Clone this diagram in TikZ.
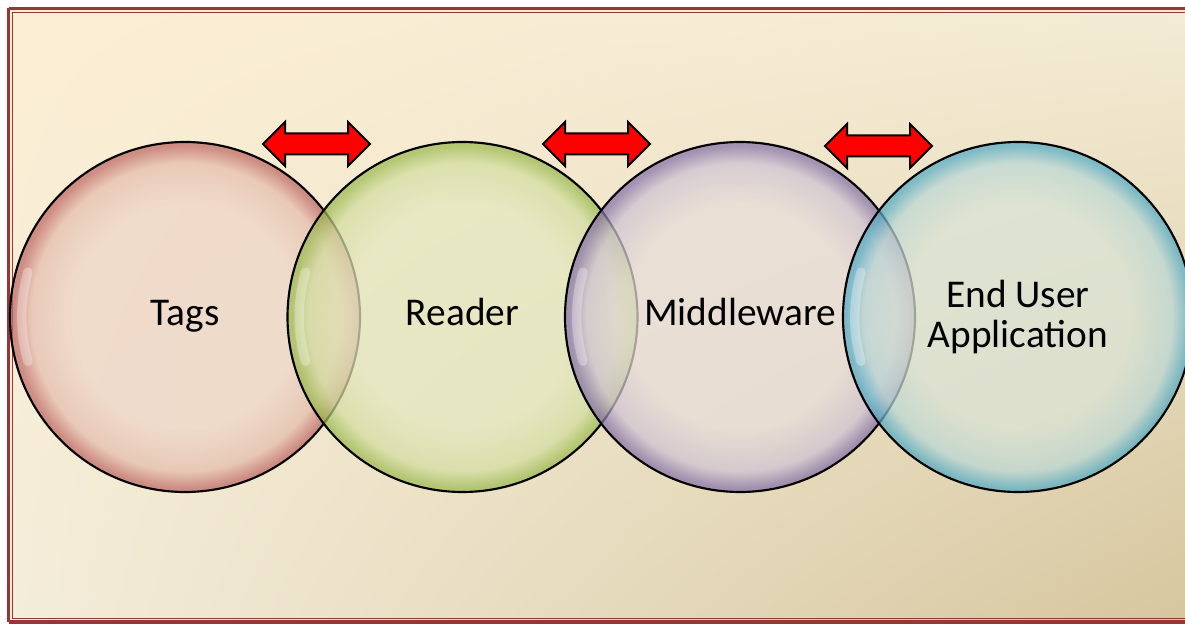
\documentclass[tikz,border=0pt]{standalone}
\usepackage{fontspec}
\setmainfont{Carlito}
\usetikzlibrary{calc,shadings}
\definecolor{framered}{RGB}{149,55,53}
\definecolor{bgA}{RGB}{252,238,212}
\definecolor{bgB}{RGB}{243,235,212}
\definecolor{bgC}{RGB}{244,237,218}
\definecolor{bgD}{RGB}{214,198,158}
\definecolor{tagsin}{RGB}{238,214,200}
\definecolor{tagsmid}{RGB}{228,188,172}
\definecolor{tagsrim}{RGB}{190,104,100}
\definecolor{readin}{RGB}{228,232,192}
\definecolor{readmid}{RGB}{210,222,160}
\definecolor{readrim}{RGB}{156,186,80}
\definecolor{midin}{RGB}{232,222,218}
\definecolor{midmid}{RGB}{206,194,212}
\definecolor{midrim}{RGB}{134,114,168}
\definecolor{endin}{RGB}{218,228,214}
\definecolor{endmid}{RGB}{186,216,214}
\definecolor{endrim}{RGB}{84,172,198}
\pgfdeclareradialshading{tagsh}{\pgfpoint{0bp}{0bp}}{color(0bp)=(tagsin); color(16bp)=(tagsin); color(22bp)=(tagsmid); color(24.5bp)=(tagsrim); color(50bp)=(tagsrim)}
\pgfdeclareradialshading{readsh}{\pgfpoint{0bp}{0bp}}{color(0bp)=(readin); color(16bp)=(readin); color(22bp)=(readmid); color(24.5bp)=(readrim); color(50bp)=(readrim)}
\pgfdeclareradialshading{midsh}{\pgfpoint{0bp}{0bp}}{color(0bp)=(midin); color(16bp)=(midin); color(22bp)=(midmid); color(24.5bp)=(midrim); color(50bp)=(midrim)}
\pgfdeclareradialshading{endsh}{\pgfpoint{0bp}{0bp}}{color(0bp)=(endin); color(16bp)=(endin); color(22bp)=(endmid); color(24.5bp)=(endrim); color(50bp)=(endrim)}
\tikzset{
  bubble/.style={circle, draw=black, line width=1.6pt, minimum size=262.5pt, inner sep=0pt,
    fill opacity=0.72, text opacity=1, align=center,
    font=\fontsize{29.5}{30}\selectfont, text=black},
  shine/.style={white, opacity=0.3, line width=7pt, line cap=round},
  redarrow/.style={fill=red, draw=black, line width=1.5pt, line join=miter},
  dblarrow/.pic={\draw[redarrow] (-53.5,0) -- (-31.5,-22) -- (-31.5,-10.5) -- (31.5,-10.5) -- (31.5,-22) -- (53.5,0) -- (31.5,22) -- (31.5,10.5) -- (-31.5,10.5) -- (-31.5,22) -- cycle;}
}
\begin{document}
\begin{tikzpicture}[x=0.75pt,y=-0.75pt]
\useasboundingbox (0,0) rectangle (1185,624);
\fill[white] (0,0) rectangle (1185,624);
\shade[upper left=bgA, upper right=bgB, lower left=bgC, lower right=bgD] (8,8) rectangle (1185,624);
% frame
\draw[framered, line width=2.4pt] (8.5,8.5) -- (1200,8.5);
\draw[framered, line width=2.4pt] (8.5,8.5) -- (8.5,622);
\draw[framered, line width=2.4pt] (8.5,622) -- (1200,622);
\draw[framered, line width=0.8pt] (12.5,12.5) rectangle (1200,618.5);
% circles
\node[bubble, shading=tagsh] (tags) at (185,317) {\strut Tags};
\node[bubble, shading=readsh] (reader) at (462.5,317) {\strut Reader};
\node[bubble, shading=midsh] (mid) at (740,317) {\strut Middleware};
\node[bubble, shading=endsh] (end) at (1018,317) {End User\\Application};
% highlights
\foreach \n in {tags,reader,mid,end}{
  \draw[shine] ($(\n.center)+(-157,-45)$) arc[start angle=196, end angle=164, radius=162];
}
% arrows
\coordinate (a1) at (316.5,144);
\coordinate (a2) at (596.5,144);
\coordinate (a3) at (878.5,146);
\pic at (a1) {dblarrow};
\pic at (a2) {dblarrow};
\pic at (a3) {dblarrow};
\end{tikzpicture}
\end{document}
